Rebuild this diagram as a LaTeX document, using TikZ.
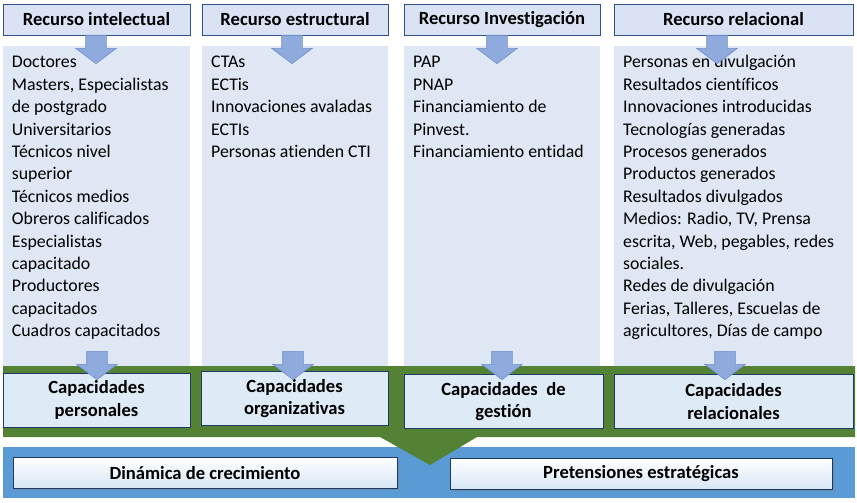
\documentclass[tikz,border=0pt]{standalone}
\usepackage{fontspec}
\setmainfont{Carlito}[Ligatures=NoCommon]
\usetikzlibrary{positioning, shapes.arrows, shadows}

\definecolor{hdrfill}{HTML}{DAE3F3}
\definecolor{hdrline}{HTML}{2F528F}
\definecolor{panfill}{HTML}{DEE7F3}
\definecolor{arrfill}{HTML}{8FAADC}
\definecolor{arrline}{HTML}{6F8FCB}
\definecolor{capfill}{HTML}{DEEBF7}
\definecolor{capline}{HTML}{1F3864}
\definecolor{bandgreen}{HTML}{548235}
\definecolor{bandblue}{HTML}{5B9BD5}
\definecolor{resfill}{HTML}{D6E6F5}

\begin{document}
\begin{tikzpicture}
% Style
[
    x=1pt, y=-1pt,
    hdr/.style={draw=hdrline, fill=hdrfill, line width=.8pt, minimum height=31pt, inner sep=0pt,
        font=\fontsize{18.6}{22}\selectfont\bfseries},
    pane/.style={fill=panfill, inner sep=0pt, anchor=north west},
    items/.style={anchor=north west, align=left, inner sep=0pt, font=\fontsize{17.8}{22.4}\selectfont},
    dn/.style={shape=single arrow, rotate=-90, anchor=tail, draw=arrline, fill=arrfill, line width=.6pt,
        minimum height=27pt, inner sep=10pt, single arrow head extend=10pt, single arrow tip angle=106},
    capbox/.style={draw=capline, fill=capfill, line width=1pt, align=center, inner sep=0pt, minimum height=54pt,
        font=\fontsize{18.6}{22.5}\selectfont\bfseries},
    res/.style={draw=capline, line width=1pt, top color=white, bottom color=resfill, minimum height=31pt,
        inner sep=0pt, font=\fontsize{18.6}{22}\selectfont\bfseries,
        drop shadow={opacity=.45, shadow xshift=1.5pt, shadow yshift=-1.5pt}}
]
\useasboundingbox (0,0) rectangle (857,503);

%=================================== Start ===================================
{
    % columns: header and panel
    \foreach \i/\xl/\xr/\lbl in {
        1/3/190/{Recurso intelectual},
        2/202/388/{Recurso estructural},
        3/404/600/{Recurso Investigación},
        4/614/853/{Recurso relacional}} {
        \pgfmathsetmacro{\w}{\xr-\xl}
        \pgfmathsetmacro{\xc}{(\xr+\xl)/2}
        \node[pane, minimum width=\w pt, minimum height=320pt] (pan-\i) at (\xl,46) {};
        \node[hdr, minimum width=\w pt] (rec-\i) at (\xc,19.5) {\lbl};
    }

    % panel texts (strut: first baseline 15.7pt below the top)
    \node[items] (it-1) at (11.7,52) {\strut Doctores\\Masters, Especialistas\\de postgrado\\Universitarios\\
        Técnicos nivel\\superior\\Técnicos medios\\Obreros calificados\\Especialistas\\capacitado\\
        Productores\\capacitados\\Cuadros capacitados};
    \node[items] (it-2) at (211,52) {\strut CTAs\\ECTis\\Innovaciones avaladas\\ECTIs\\Personas atienden CTI};
    \node[items] (it-3) at (413,52) {\strut PAP\\PNAP\\Financiamiento de\\Pinvest.\\Financiamiento entidad};
    \node[items] (it-4) at (623,52) {\strut Personas en divulgación\\Resultados científicos\\Innovaciones introducidas\\
        Tecnologías generadas\\Procesos generados\\Productos generados\\Resultados divulgados\\
        Medios: Radio, TV, Prensa\\escrita, Web, pegables, redes\\sociales.\\Redes de divulgación\\
        Ferias, Talleres, Escuelas de\\agricultores, Días de campo};

    % arrows header -> panel
    \foreach \i/\ax in {1/96, 2/292, 3/497, 4/717}
        \node[dn] (arr-t-\i) at (\ax,35) {};

    % bands
    \fill[bandblue] (3,447) rectangle (855,498);
    \fill[bandgreen] (3,366) -- (855,366) -- (855,437) -- (477,437) -- (430,465)
        -- (380,437) -- (3,437) -- cycle;

    \foreach \i/\xl/\xr/\cy/\ctxt in {
        1/3/190/400/{Capacidades\\personales},
        2/201/388/398.5/{Capacidades\\organizativas},
        3/404/603/401.5/{Capacidades~ de\\gestión},
        4/614/853/401.5/{Capacidades\\relacionales}} {
        \pgfmathsetmacro{\w}{\xr-\xl}
        \pgfmathsetmacro{\xc}{(\xr+\xl)/2}
        \node[capbox, minimum width=\w pt] (cap-\i) at (\xc,\cy) {\ctxt};
    }

    % arrows panel -> capacity
    \foreach \i/\bx in {1/97, 2/293, 3/502, 4/725}
        \node[dn] (arr-b-\i) at (\bx,351) {};

    \node[res, minimum width=384pt] (din) at (205,473) {Dinámica de crecimiento};
    \node[res, minimum width=382pt] (pre) at (641,474) {Pretensiones estratégicas};
}
%==================================== END ====================================

\end{tikzpicture}
\end{document}
